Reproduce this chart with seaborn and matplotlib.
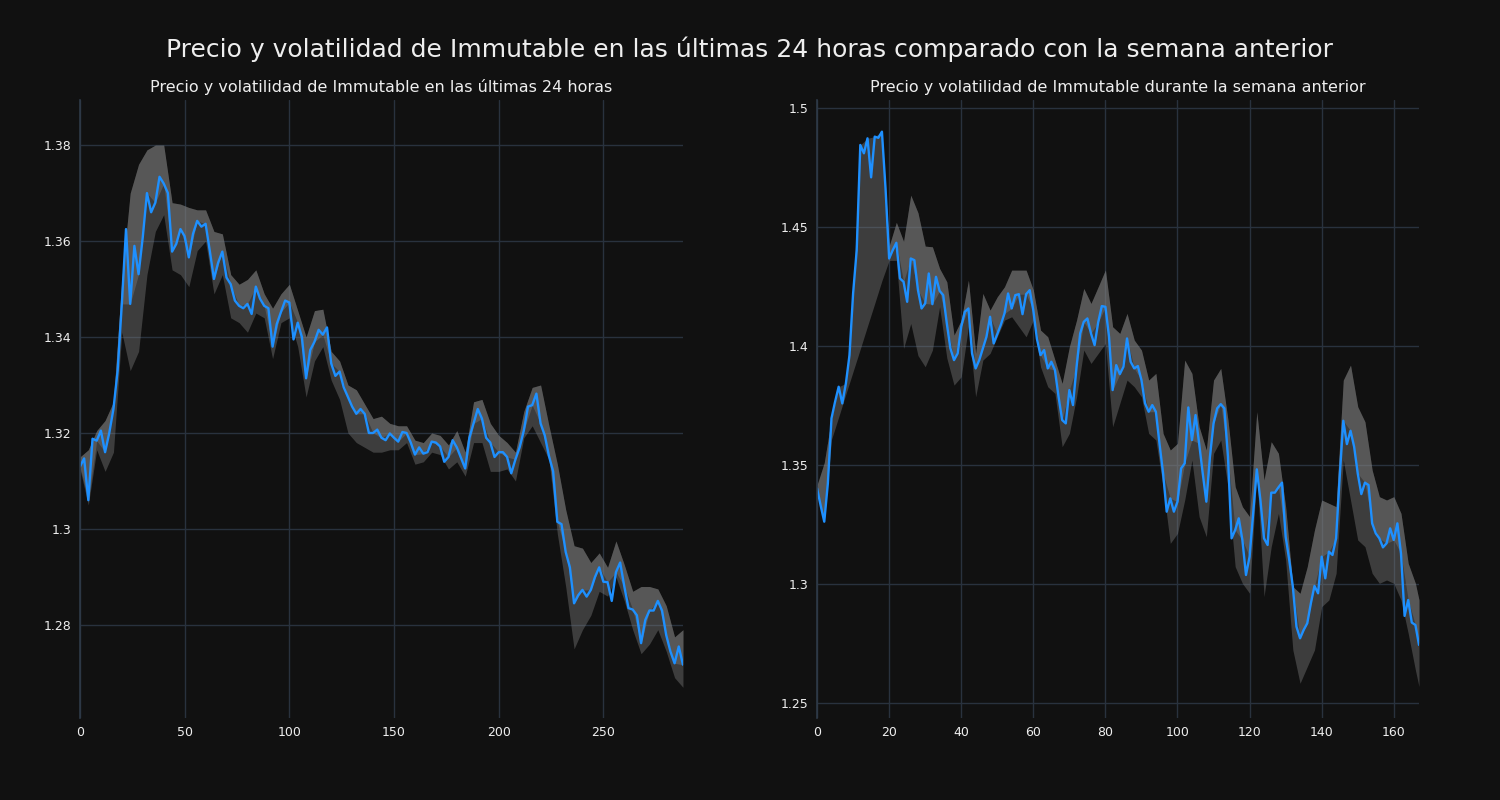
import numpy as np
import pandas as pd
import matplotlib
matplotlib.use("Agg")
import matplotlib.pyplot as plt
from matplotlib.ticker import FuncFormatter
import seaborn as sns

# ultimas 24 horas: precio cada 2 pasos (0..288), banda cada 4 pasos
dia_x = list(range(0, 289, 2))
dia_precio = [1.3130, 1.3147, 1.3060, 1.3188, 1.3184, 1.3205, 1.3160, 1.3200, 1.3250, 1.3330,
              1.3469, 1.3625, 1.3469, 1.3590, 1.3531, 1.3608, 1.3700, 1.3660, 1.3680, 1.3734,
              1.3720, 1.3700, 1.3578, 1.3594, 1.3625, 1.3610, 1.3566, 1.3615, 1.3642, 1.3630,
              1.3636, 1.3580, 1.3521, 1.3555, 1.3578, 1.3524, 1.3510, 1.3476, 1.3465, 1.3460,
              1.3469, 1.3448, 1.3505, 1.3480, 1.3465, 1.3460, 1.3380, 1.3427, 1.3452, 1.3476,
              1.3472, 1.3395, 1.3430, 1.3400, 1.3314, 1.3373, 1.3390, 1.3415, 1.3405, 1.3420,
              1.3345, 1.3319, 1.3328, 1.3295, 1.3275, 1.3255, 1.3240, 1.3250, 1.3240, 1.3200,
              1.3200, 1.3207, 1.3190, 1.3185, 1.3199, 1.3190, 1.3182, 1.3202, 1.3200, 1.3180,
              1.3155, 1.3170, 1.3157, 1.3160, 1.3182, 1.3180, 1.3172, 1.3140, 1.3150, 1.3185,
              1.3170, 1.3148, 1.3126, 1.3190, 1.3220, 1.3250, 1.3230, 1.3190, 1.3180, 1.3150,
              1.3160, 1.3160, 1.3150, 1.3116, 1.3145, 1.3170, 1.3205, 1.3255, 1.3258, 1.3282,
              1.3220, 1.3195, 1.3152, 1.3120, 1.3015, 1.3010, 1.2952, 1.2920, 1.2845, 1.2862,
              1.2873, 1.2859, 1.2873, 1.2900, 1.2920, 1.2890, 1.2889, 1.2850, 1.2910, 1.2930,
              1.2880, 1.2835, 1.2832, 1.2820, 1.2762, 1.2810, 1.2830, 1.2830, 1.2850, 1.2830,
              1.2779, 1.2745, 1.2720, 1.2755, 1.2717]
dia_banda_x = list(range(0, 289, 4))
dia_sup = [1.3150, 1.3165, 1.3205, 1.3226, 1.3265, 1.3520, 1.3700, 1.3760, 1.3790, 1.3800,
           1.3800, 1.3680, 1.3677, 1.3670, 1.3665, 1.3665, 1.3620, 1.3615, 1.3530, 1.3510,
           1.3520, 1.3540, 1.3490, 1.3460, 1.3490, 1.3510, 1.3455, 1.3400, 1.3455, 1.3458,
           1.3370, 1.3350, 1.3300, 1.3290, 1.3260, 1.3230, 1.3235, 1.3220, 1.3215, 1.3215,
           1.3185, 1.3180, 1.3200, 1.3195, 1.3175, 1.3205, 1.3160, 1.3265, 1.3270, 1.3220,
           1.3195, 1.3180, 1.3160, 1.3245, 1.3295, 1.3300, 1.3215, 1.3135, 1.3040, 1.2965,
           1.2960, 1.2930, 1.2950, 1.2920, 1.2975, 1.2925, 1.2870, 1.2880, 1.2880, 1.2875,
           1.2840, 1.2775, 1.2790]
dia_inf = [1.3125, 1.3050, 1.3165, 1.3120, 1.3160, 1.3410, 1.3330, 1.3370, 1.3530, 1.3620,
           1.3655, 1.3540, 1.3530, 1.3505, 1.3580, 1.3600, 1.3490, 1.3530, 1.3440, 1.3430,
           1.3410, 1.3450, 1.3440, 1.3355, 1.3430, 1.3440, 1.3380, 1.3275, 1.3350, 1.3380,
           1.3310, 1.3270, 1.3200, 1.3180, 1.3170, 1.3160, 1.3160, 1.3165, 1.3165, 1.3180,
           1.3135, 1.3140, 1.3160, 1.3155, 1.3125, 1.3140, 1.3110, 1.3180, 1.3180, 1.3120,
           1.3120, 1.3125, 1.3100, 1.3190, 1.3215, 1.3180, 1.3145, 1.2990, 1.2880, 1.2750,
           1.2790, 1.2820, 1.2870, 1.2860, 1.2900, 1.2850, 1.2790, 1.2740, 1.2760, 1.2790,
           1.2745, 1.2690, 1.2670]

# semana anterior: precio por hora (0..167), banda cada 2 horas
sem_x = list(range(0, 168))
sem_precio = [1.3402, 1.3330, 1.3262, 1.3423, 1.3696, 1.3766, 1.3829, 1.3759, 1.3843, 1.3962,
              1.4221, 1.4403, 1.4845, 1.4810, 1.4873, 1.4709, 1.4880, 1.4875, 1.4901, 1.4662,
              1.4368, 1.4403, 1.4434, 1.4284, 1.4270, 1.4186, 1.4368, 1.4361, 1.4235, 1.4158,
              1.4179, 1.4305, 1.4176, 1.4291, 1.4232, 1.4214, 1.4095, 1.3990, 1.3941, 1.3969,
              1.4081, 1.4144, 1.4158, 1.3969, 1.3906, 1.3941, 1.3990, 1.4039, 1.4123, 1.4011,
              1.4050, 1.4090, 1.4137, 1.4221, 1.4158, 1.4214, 1.4218, 1.4134, 1.4218, 1.4235,
              1.4150, 1.4030, 1.3962, 1.3983, 1.3906, 1.3934, 1.3899, 1.3787, 1.3689, 1.3675,
              1.3815, 1.3752, 1.3913, 1.4053, 1.4102, 1.4116, 1.4053, 1.4004, 1.4100, 1.4168,
              1.4165, 1.4039, 1.3815, 1.3920, 1.3882, 1.3913, 1.4032, 1.3934, 1.3906, 1.3916,
              1.3857, 1.3759, 1.3724, 1.3752, 1.3724, 1.3591, 1.3465, 1.3304, 1.3360, 1.3304,
              1.3346, 1.3486, 1.3507, 1.3742, 1.3605, 1.3710, 1.3591, 1.3465, 1.3346, 1.3535,
              1.3675, 1.3738, 1.3756, 1.3738, 1.3535, 1.3192, 1.3227, 1.3276, 1.3185, 1.3038,
              1.3115, 1.3297, 1.3482, 1.3353, 1.3192, 1.3164, 1.3384, 1.3384, 1.3406, 1.3426,
              1.3199, 1.3101, 1.2989, 1.2821, 1.2772, 1.2807, 1.2835, 1.2919, 1.2992, 1.2961,
              1.3115, 1.3024, 1.3136, 1.3122, 1.3192, 1.3451, 1.3686, 1.3588, 1.3644, 1.3577,
              1.3465, 1.3378, 1.3426, 1.3416, 1.3255, 1.3213, 1.3192, 1.3154, 1.3171, 1.3234,
              1.3185, 1.3255, 1.3129, 1.2866, 1.2933, 1.2838, 1.2828, 1.2744]
sem_banda_x = list(range(0, 167, 2)) + [167]
sem_sup = [1.3416, 1.3510, 1.3696, 1.3829, 1.3843, 1.4221, 1.4845, 1.4873, 1.4880, 1.4901,
           1.4420, 1.4520, 1.4440, 1.4634, 1.4560, 1.4420, 1.4417, 1.4326, 1.4270, 1.4046,
           1.4109, 1.4277, 1.3969, 1.4221, 1.4151, 1.4207, 1.4249, 1.4319, 1.4319, 1.4319,
           1.4235, 1.4067, 1.4039, 1.3941, 1.3843, 1.3997, 1.4109, 1.4242, 1.4179, 1.4249,
           1.4320, 1.4081, 1.4053, 1.4137, 1.4025, 1.3983, 1.3857, 1.3885, 1.3633, 1.3563,
           1.3591, 1.3941, 1.3885, 1.3661, 1.3563, 1.3857, 1.3906, 1.3689, 1.3409, 1.3325,
           1.3283, 1.3724, 1.3437, 1.3598, 1.3549, 1.3325, 1.2989, 1.2961, 1.3073, 1.3227,
           1.3353, 1.3339, 1.3325, 1.3857, 1.3920, 1.3745, 1.3682, 1.3479, 1.3367, 1.3353,
           1.3367, 1.3297, 1.3087, 1.3003, 1.2933]
sem_inf = [1.3402, 1.3262, 1.3607, 1.3702, 1.3798, 1.3893, 1.3988, 1.4084, 1.4179, 1.4275,
           1.4360, 1.4360, 1.3990, 1.4095, 1.3960, 1.3913, 1.3983, 1.4165, 1.3950, 1.3836,
           1.3871, 1.4081, 1.3787, 1.3941, 1.3969, 1.4039, 1.4109, 1.4123, 1.4081, 1.4039,
           1.4109, 1.3913, 1.3829, 1.3801, 1.3577, 1.3633, 1.3787, 1.3983, 1.3927, 1.3969,
           1.4011, 1.3661, 1.3759, 1.3857, 1.3829, 1.3787, 1.3633, 1.3605, 1.3409, 1.3171,
           1.3213, 1.3353, 1.3521, 1.3283, 1.3199, 1.3549, 1.3605, 1.3409, 1.3073, 1.3003,
           1.2961, 1.3465, 1.2947, 1.3157, 1.3297, 1.3101, 1.2723, 1.2583, 1.2653, 1.2723,
           1.2905, 1.2933, 1.3045, 1.3521, 1.3353, 1.3185, 1.3157, 1.3045, 1.3003, 1.3017,
           1.3003, 1.2933, 1.2793, 1.2639, 1.2569]

titulo = "Precio y volatilidad de Immutable en las últimas 24 horas comparado con la semana anterior"
sub_dia = "Precio y volatilidad de Immutable en las últimas 24 horas"
sub_sem = "Precio y volatilidad de Immutable durante la semana anterior"

fondo = "#111111"
texto = "#eeeeee"
sns.set_theme(style="darkgrid", rc={
    "figure.facecolor": fondo, "axes.facecolor": fondo, "savefig.facecolor": fondo,
    "grid.color": "#29323e", "grid.linewidth": 1.0,
    "text.color": texto, "xtick.color": texto, "ytick.color": texto,
    "axes.labelcolor": texto,
})
plt.rcParams["font.family"] = ["DejaVu Sans"]

fig = plt.figure(figsize=(15, 8), dpi=100)
ax1 = fig.add_axes([0.0533, 0.1025, 0.402, 0.7725])
ax2 = fig.add_axes([0.5447, 0.1025, 0.4013, 0.7725])


def dibujar(ax, x, precio, bx, sup, inf, paso):
    df = pd.DataFrame({"x": x, "precio": precio})
    p = np.array(precio)
    idx = [x.index(v) for v in bx]
    p_b = p[idx]
    sup = np.array(sup)
    inf = np.array(inf)
    ax.fill_between(bx, inf, sup, color="grey", alpha=0.4, linewidth=0)
    ax.fill_between(bx, p_b, sup, where=sup >= p_b, interpolate=True,
                    color="grey", alpha=0.4, linewidth=0)
    sns.lineplot(data=df, x="x", y="precio", ax=ax, color="#1e90ff", linewidth=1.7)
    ax.set_xlabel("")
    ax.set_ylabel("")
    ax.tick_params(length=0, labelsize=9, pad=6)
    ax.yaxis.set_major_formatter(FuncFormatter(lambda v, pos: f"{v:g}"))
    ax.xaxis.set_major_locator(matplotlib.ticker.MultipleLocator(paso))
    for lado in ["top", "right", "bottom"]:
        ax.spines[lado].set_visible(False)
    ax.spines["left"].set_visible(True)
    ax.spines["left"].set_color("#2e3a48")
    ax.spines["left"].set_linewidth(1.2)


dibujar(ax1, dia_x, dia_precio, dia_banda_x, dia_sup, dia_inf, 50)
ax1.set_xlim(0, 288)
ax1.set_ylim(1.2606, 1.3894)
ax1.set_title(sub_dia, fontsize=11.5, color=texto, pad=6)

dibujar(ax2, sem_x, sem_precio, sem_banda_x, sem_sup, sem_inf, 20)
ax2.set_xlim(0, 167)
ax2.set_ylim(1.2437, 1.5034)
ax2.set_title(sub_sem, fontsize=11.5, color=texto, pad=6)

fig.suptitle(titulo, fontsize=18, color=texto, y=0.955)

fig.savefig("out.png", dpi=100, facecolor=fondo)
